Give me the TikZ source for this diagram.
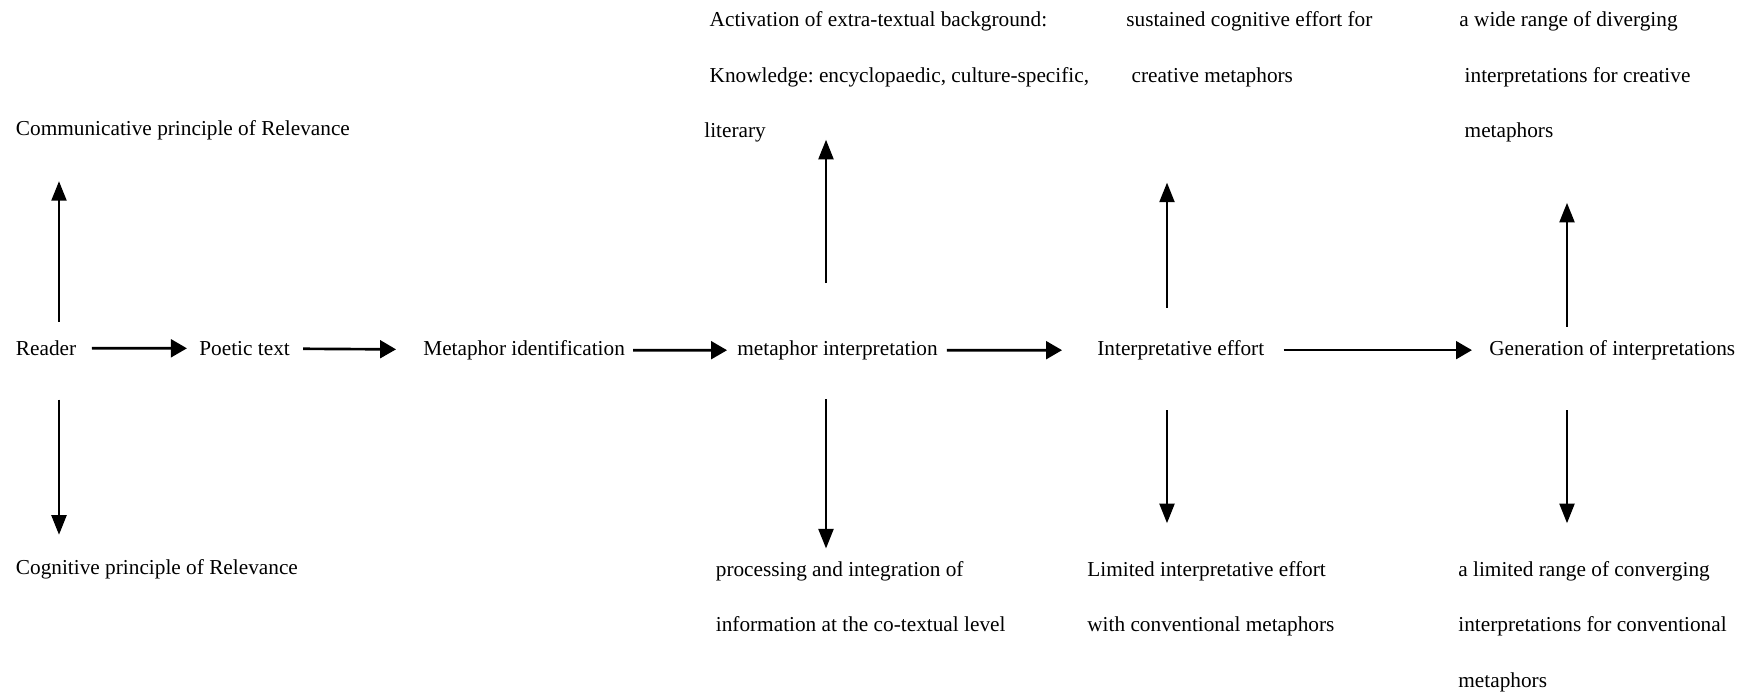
\documentclass[tikz,border=0pt]{standalone}
\usepackage{fontspec}
\setmainfont{Liberation Serif}
\usetikzlibrary{arrows.meta}
\frenchspacing
\begin{document}
\begin{tikzpicture}[x=0.5638pt,y=-0.5638pt,
	txt/.style={anchor=mid west,inner sep=0pt,font=\fontsize{12}{31.2}\selectfont},
	blk/.style={anchor=north west,inner sep=0pt,align=left,font=\fontsize{12}{31.2}\selectfont},
	harr/.style={-{Triangle[length=9pt,width=10pt]},line width=1.5pt},
	varr/.style={-{Triangle[length=11pt,width=8.5pt]},line width=1.1pt}]
	\useasboundingbox (0,0) rectangle (1745,693);
	% columns of the vertical arrows
	\coordinate (colA) at (59,0);
	\coordinate (colB) at (826,0);
	\coordinate (colC) at (1167,0);
	\coordinate (colD) at (1567,0);
	\node[txt] (reader) at (15.6,351.3) {Reader};
	\node[txt] (poetic) at (199,351.3) {Poetic text};
	\node[txt] (metid) at (423,351.3) {Metaphor identification};
	\node[txt] (metint) at (737,351.3) {metaphor interpretation};
	\node[txt] (effort) at (1097,351.3) {Interpretative effort};
	\node[txt] (gener) at (1489,351.3) {Generation of interpretations};
	\node[txt] (comm) at (15.6,131.3) {Communicative principle of Relevance};
	\node[txt] (cogn) at (15.6,570.8) {Cognitive principle of Relevance};
	\node[blk] (activ) at (704,11.5) {\ Activation of extra-textual background:\\\ Knowledge: encyclopaedic, culture-specific,\\literary};
	\node[blk] (proc) at (715.5,561.2) {processing and integration of\\information at the co-textual level};
	\node[blk] (sust) at (1126,11.5) {sustained cognitive effort for\\\ creative metaphors};
	\node[blk] (limeff) at (1087,561.2) {Limited interpretative effort\\with conventional metaphors};
	\node[blk] (wide) at (1459,11.5) {a wide range of diverging\\\ interpretations for creative\\\ metaphors};
	\node[blk] (limrange) at (1458,561.2) {a limited range of converging\\interpretations for conventional\\metaphors};
	\draw[harr,shorten <=8.6pt,shorten >=6.8pt] (reader) -- (poetic);
	\draw[harr,shorten <=7.3pt,shorten >=15.2pt] (poetic) -- (metid);
	\draw[harr,shorten <=4.5pt,shorten >=5.6pt] (metid) -- (metint);
	\draw[harr,shorten <=5pt,shorten >=19.7pt] (metint) -- (effort);
	\draw[harr,shorten <=10.7pt,shorten >=9.6pt] (effort) -- (gener);
	\draw[varr,shorten <=10.45pt,shorten >=23.1pt] (reader.north -| colA) -- (comm.south -| colA);
	\draw[varr,shorten <=24.6pt,shorten >=14pt] (reader.south -| colA) -- (cogn.north -| colA);
	\draw[varr,shorten <=32.25pt,shorten >=-1.5pt] (metint.north -| colB) -- (activ.south -| colB);
	\draw[varr,shorten <=22.1pt,shorten >=7.2pt] (metint.south -| colB) -- (proc.north -| colB);
	\draw[varr,shorten <=18.25pt,shorten >=53.9pt] (effort.north -| colC) -- (sust.south -| colC);
	\draw[varr,shorten <=28.05pt,shorten >=21.45pt] (effort.south -| colC) -- (limeff.north -| colC);
	\draw[varr,shorten <=7.6pt,shorten >=34.1pt] (gener.north -| colD) -- (wide.south -| colD);
	\draw[varr,shorten <=28.05pt,shorten >=21.45pt] (gener.south -| colD) -- (limrange.north -| colD);
\end{tikzpicture}
\end{document}
